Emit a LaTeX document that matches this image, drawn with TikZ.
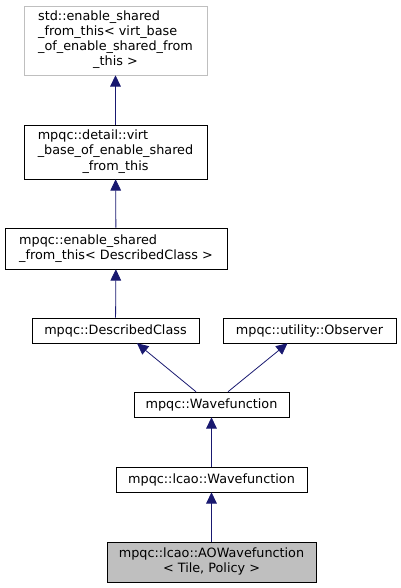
\documentclass[tikz,border=0pt]{standalone}
\usepackage{fontspec}
\setmainfont{DejaVu Sans}
\usetikzlibrary{arrows.meta,calc}
\definecolor{edgeblue}{HTML}{191970}
\definecolor{lgray}{HTML}{BFBFBF}
\tikzset{
  % class box, doxygen look
  cls/.style  = {rectangle, draw=black, fill=white, inner sep=0pt, align=center,
                 font=\fontsize{9.6}{11.25}\selectfont},
  ext/.style  = {cls, draw=lgray},
  cur/.style  = {cls, fill=lgray},
  inh/.style  = {-{Triangle[length=8.5pt,width=8pt]}, edgeblue, semithick},
}
\newcommand{\lines}[1]{\begin{tabular}{@{}l@{}}#1\end{tabular}}
\newcommand{\midline}[1]{\multicolumn{1}{@{}c@{}}{#1}}
\begin{document}
\begin{tikzpicture}[x=0.75pt,y=-0.75pt]
\useasboundingbox (0,0) rectangle (400,588);
% boxes
\node[ext, minimum width=137.25pt, minimum height=51.75pt] (esft) at (115.5,40.5)
  {\lines{std::enable\_shared\\\_from\_this< virt\_base\\\_of\_enable\_shared\_from\\\midline{\_this >}}};
\node[cls, minimum width=137.25pt, minimum height=40.5pt] (virt) at (115.5,152)
  {\lines{mpqc::detail::virt\\\_base\_of\_enable\_shared\\\midline{\_from\_this}}};
\node[cls, minimum width=166.5pt, minimum height=30.75pt] (mesft) at (116,248.5)
  {\lines{mpqc::enable\_shared\\\_from\_this< DescribedClass >}};
\node[cls, minimum width=125.25pt, minimum height=18.75pt] (dc) at (115.5,330.5)
  {mpqc::DescribedClass};
\node[cls, minimum width=129.75pt, minimum height=18.75pt] (obs) at (309.5,330.5)
  {mpqc::utility::Observer};
\node[cls, minimum width=116.25pt, minimum height=18.75pt] (wf) at (211.5,404.5)
  {mpqc::Wavefunction};
\node[cls, minimum width=143.25pt, minimum height=18.75pt] (lwf) at (211.5,479.5)
  {mpqc::lcao::Wavefunction};
\node[cur, minimum width=156.75pt, minimum height=30pt] (aowf) at (211.5,562)
  {\lines{mpqc::lcao::AOWavefunction\\\midline{< Tile, Policy >}}};
% inheritance
\draw[inh] (virt) -- (esft);
\draw[inh] (mesft) -- (virt);
\draw[inh] (dc) -- (mesft);
\draw[inh] ($(wf.north)+(-15.5,0)$) -- ($(dc.south)+(21.5,0)$);
\draw[inh] ($(wf.north)+(16.5,0)$) -- ($(obs.south)+(-22,0)$);
\draw[inh] (lwf) -- (wf);
\draw[inh] (aowf) -- (lwf);
\end{tikzpicture}
\end{document}
